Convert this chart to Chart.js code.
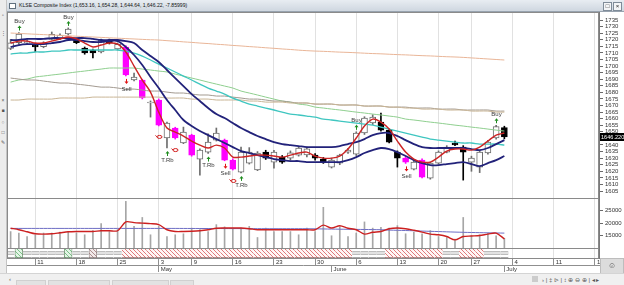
<!DOCTYPE html>
<html>
<head>
<meta charset="utf-8">
<title>KLSE Composite Index</title>
<script src="https://cdn.jsdelivr.net/npm/chart.js@4.4.1/dist/chart.umd.min.js"></script>
<style>
html, body { margin: 0; padding: 0; background: #fff; }
body { width: 624px; height: 285px; position: relative; overflow: hidden; font-family: "Liberation Sans", Arial, sans-serif; }
#chart { position: absolute; left: 0; top: 0; }
#toolbar { position: absolute; left: 0; top: 0; width: 6px; height: 273px; background: #ececec; border-right: 1px solid #c4c4c4; font-size: 5px; color: #555; }
#toolbar span { position: absolute; left: 0; width: 6px; text-align: center; line-height: 6px; }
#title { position: absolute; left: 7px; top: 0; width: 617px; height: 11px; background: linear-gradient(#e8edf2, #cfd7e0); border-bottom: 1px solid #98a3af; font-size: 5.1px; line-height: 11px; color: #111; white-space: nowrap; }
#title .ico { display: inline-block; width: 5px; height: 4px; margin: 0 3px 0 2px; border: 1px solid #60707f; background: #fff; vertical-align: middle; }
#winbtn { position: absolute; right: 2px; top: 1px; }
#winbtn span { display: inline-block; width: 7px; height: 7px; border: 1px solid #7f8c99; background: #f3f5f7; margin-left: 1px; font-size: 6px; line-height: 7px; text-align: center; color: #222; }
#smile { position: absolute; left: 600px; top: 258px; width: 22px; height: 14px; background: #dcdcdc; border: 1px solid #bdbdbd; font-size: 8px; text-align: center; line-height: 14px; color: #555; }
#bottom { position: absolute; left: 0; top: 273px; width: 624px; height: 12px; background: #f0f0f0; border-top: 1px solid #d4d4d4; font-size: 6px; color: #555; }
#bottom span { position: absolute; top: 2px; }
#bottom .tab { top: 6px; height: 6px; background: #e2e2e2; border: 1px solid #d0d0d0; border-bottom: 0; }
</style>
</head>
<body>
<canvas id="chart" width="624" height="285"></canvas>
<div id="toolbar">
  <span style="top:12px">▫</span>
  <span style="top:30px">⋮</span>
  <span style="top:97px">×</span>
  <span style="top:107px">■</span>
  <span style="top:119px">○</span>
  <span style="top:129px">□</span>
  <span style="top:139px">✎</span>
</div>
<div id="title"><span class="ico"></span><span id="titleText"></span><div id="winbtn"><span>□</span><span>×</span></div></div>
<div id="smile">☺</div>
<div id="bottom">
  <span style="left:9px">‹</span>
  <span class="tab" style="left:16px;width:28px"></span>
  <span class="tab" style="left:48px;width:60px"></span>
  <span class="tab" style="left:112px;width:55px"></span>
  <span class="tab" style="left:170px;width:22px"></span>
  <span style="left:532px;width:6px;height:6px;background:#ccc"></span>
  <span style="left:542px">›&nbsp;|&nbsp;‡&nbsp;⊳&nbsp;|&nbsp;↕&nbsp;⊕&nbsp;⊖&nbsp;⊕&nbsp;|&nbsp;◂&nbsp;▸</span>
</div>
<script>
// trading days, then the empty days to the right of the last bar
const dates = [
  '2016-04-06','2016-04-07','2016-04-08',
  '2016-04-11','2016-04-12','2016-04-13','2016-04-14','2016-04-15',
  '2016-04-18','2016-04-19','2016-04-20','2016-04-21','2016-04-22',
  '2016-04-25','2016-04-26','2016-04-27','2016-04-28','2016-04-29',
  '2016-05-03','2016-05-04','2016-05-05','2016-05-06',
  '2016-05-09','2016-05-10','2016-05-11','2016-05-12','2016-05-13',
  '2016-05-16','2016-05-17','2016-05-18','2016-05-19','2016-05-20',
  '2016-05-23','2016-05-24','2016-05-25','2016-05-26','2016-05-27',
  '2016-05-30','2016-05-31','2016-06-01','2016-06-02','2016-06-03',
  '2016-06-06','2016-06-07','2016-06-08','2016-06-09','2016-06-10',
  '2016-06-13','2016-06-14','2016-06-15','2016-06-16','2016-06-17',
  '2016-06-20','2016-06-21','2016-06-23','2016-06-24',
  '2016-06-27','2016-06-28','2016-06-29','2016-06-30','2016-07-01',
  '2016-07-04','2016-07-05','2016-07-06','2016-07-07','2016-07-08',
  '2016-07-11','2016-07-12','2016-07-13','2016-07-14','2016-07-15',
  '2016-07-18','2016-07-19'
];

const opens = [1713.5,1717.7,1717.8,1716.0,1714.7,1720.3,1721.0,1724.4,1719.8,1713.7,
  1712.2,1710.7,1719.8,1713.0,1714.5,1689.4,1689.4,1671.9,1674.2,1645.3,
  1652.9,1641.5,1647.5,1629.3,1634.6,1643.7,1643.7,1628.5,1619.4,1626.2,
  1621.0,1634.6,1627.0,1630.8,1630.0,1632.3,1632.5,1632.3,1629.3,1623.2,
  1626.2,1634.6,1633.1,1649.1,1656.7,1657.4,1651.3,1634.6,1630.0,1621.7,
  1628.5,1614.8,1626.2,1634.6,1641.5,1638.4,1627.0,1623.2,1633.9,1645.3,
  1653.16];
const highs = [1720.3,1725.5,1720.2,1717.0,1718.5,1725.9,1724.5,1729.0,1721.0,1714.5,
  1713.0,1720.5,1720.5,1717.5,1715.5,1694.7,1690.0,1673.5,1675.0,1657.5,
  1653.5,1653.6,1648.2,1637.0,1648.5,1652.9,1644.5,1629.5,1638.4,1638.0,
  1635.0,1636.0,1636.0,1632.0,1635.5,1638.5,1638.5,1633.5,1630.5,1630.0,
  1633.0,1637.5,1650.0,1661.5,1663.0,1664.3,1652.0,1635.5,1631.0,1628.0,
  1629.5,1627.0,1635.5,1639.5,1643.0,1639.5,1631.5,1636.0,1643.5,1655.0,
  1654.28];
const lows = [1712.5,1716.5,1716.4,1711.0,1713.9,1719.8,1720.0,1723.5,1717.0,1709.0,
  1706.1,1710.0,1716.8,1712.2,1692.5,1688.8,1675.0,1661.2,1654.5,1637.7,
  1644.5,1641.0,1631.5,1617.0,1633.5,1643.0,1628.0,1621.0,1618.8,1625.5,
  1620.5,1629.0,1622.4,1626.0,1628.5,1631.5,1631.0,1628.5,1626.0,1622.5,
  1625.0,1633.5,1632.0,1648.0,1655.5,1650.5,1641.5,1623.2,1626.0,1621.0,
  1615.0,1614.0,1625.5,1634.0,1639.5,1613.3,1620.0,1619.0,1633.0,1644.5,
  1644.64];
const closes = [1717.7,1724.4,1718.6,1714.6,1717.7,1724.1,1723.5,1728.2,1717.7,1709.9,
  1709.9,1719.8,1717.5,1716.5,1693.2,1691.7,1675.7,1672.6,1655.1,1656.7,
  1645.3,1649.8,1632.3,1636.1,1642.2,1649.1,1628.5,1621.7,1634.6,1634.6,
  1633.9,1630.0,1634.6,1627.0,1634.0,1637.7,1637.0,1630.0,1627.0,1628.5,
  1632.3,1636.1,1649.1,1660.5,1661.2,1651.3,1642.2,1630.0,1627.0,1627.0,
  1615.6,1626.2,1634.6,1638.4,1640.0,1634.6,1630.0,1634.6,1642.2,1654.08,
  1646.22];

// moving averages on the price pane
const maShort = [1717.5,1719.0,1719.0,1717.5,1717.5,1719.0,1720.6,1722.1,1720.6,1717.5,
  1714.5,1716.0,1717.5,1716.7,1710.7,1700.0,1689.4,1680.2,1665.0,1652.9,
  1649.8,1646.8,1643.0,1639.9,1637.7,1639.9,1637.7,1630.8,1630.8,1631.6,
  1632.3,1632.3,1631.6,1630.8,1632.3,1633.9,1634.6,1631.6,1630.0,1630.0,
  1631.6,1636.9,1645.3,1654.4,1659.7,1657.4,1652.1,1643.0,1634.6,1629.3,
  1627.0,1627.0,1630.8,1635.4,1636.9,1636.9,1636.1,1638.4,1643.0,1647.5,
  1649.1];
const maNavyA = [1714.5,1716.0,1716.7,1716.7,1716.7,1717.5,1718.3,1719.8,1719.8,1719.0,
  1718.3,1718.3,1719.0,1719.0,1714.5,1708.4,1700.8,1691.7,1683.3,1674.2,
  1666.6,1659.0,1654.4,1650.6,1647.5,1644.5,1641.5,1638.4,1635.4,1633.9,
  1632.3,1630.8,1629.3,1628.5,1627.8,1627.8,1627.0,1627.0,1627.0,1627.0,
  1627.0,1628.5,1630.8,1633.9,1636.1,1637.7,1636.9,1634.6,1631.6,1628.5,
  1626.2,1624.7,1624.7,1625.5,1626.2,1627.0,1625.5,1623.9,1626.2,1628.5,
  1631.6];
const maNavyB = [1719.8,1719.8,1720.6,1720.6,1720.6,1721.3,1721.3,1721.3,1721.3,1721.3,
  1720.6,1719.8,1719.8,1719.8,1719.0,1717.5,1712.2,1707.6,1703.1,1697.0,
  1690.9,1684.8,1678.7,1673.4,1668.1,1663.5,1660.5,1656.7,1652.9,1649.8,
  1646.8,1644.5,1642.2,1640.7,1639.9,1639.2,1638.4,1638.4,1638.4,1638.4,
  1639.2,1640.7,1642.2,1644.5,1647.5,1649.1,1649.1,1646.8,1643.7,1640.7,
  1638.4,1637.7,1637.7,1637.7,1637.7,1637.7,1636.9,1636.1,1637.7,1640.7,
  1643.7];
const maCyan = [1709.1,1709.9,1709.9,1710.7,1710.7,1711.4,1711.4,1712.2,1712.2,1712.2,
  1712.2,1712.2,1712.2,1712.2,1711.4,1709.9,1707.6,1704.6,1701.5,1698.5,
  1695.5,1692.4,1689.4,1686.3,1683.3,1681.0,1678.7,1675.7,1673.4,1671.1,
  1669.6,1668.1,1666.6,1665.0,1663.5,1662.8,1662.0,1661.2,1659.7,1659.0,
  1658.2,1657.4,1656.7,1655.9,1655.1,1653.6,1652.1,1650.6,1649.1,1647.5,
  1646.0,1644.5,1643.7,1643.0,1642.2,1641.5,1641.5,1640.7,1640.7,1640.7,
  1639.9];
const maGreen = [1687.8,1689.4,1690.1,1691.7,1692.4,1693.2,1693.9,1694.7,1695.5,1696.2,
  1697.0,1697.7,1698.5,1698.5,1698.5,1698.5,1697.7,1697.0,1696.2,1695.5,
  1693.9,1692.4,1690.9,1689.4,1687.8,1686.3,1684.8,1683.3,1681.0,1679.5,
  1678.0,1676.4,1674.9,1673.4,1672.6,1671.1,1670.4,1668.8,1668.1,1667.3,
  1666.6,1665.8,1665.0,1664.3,1663.5,1662.8,1662.0,1661.2,1659.7,1659.0,
  1658.2,1657.4,1656.7,1655.9,1655.1,1654.4,1653.6,1652.9,1652.1,1651.3,
  1650.6];
const maGray = [1690.9,1690.1,1689.4,1689.4,1688.6,1687.8,1687.1,1687.1,1686.3,1685.6,
  1684.8,1684.0,1684.0,1683.3,1682.5,1682.5,1681.8,1681.0,1681.0,1680.2,
  1679.5,1679.5,1678.7,1678.0,1678.0,1677.2,1677.2,1676.4,1675.7,1674.9,
  1674.9,1674.2,1673.4,1673.4,1672.6,1671.9,1671.9,1671.1,1671.1,1671.1,
  1670.4,1670.4,1670.4,1669.6,1669.6,1669.6,1668.8,1668.8,1668.8,1668.1,
  1668.1,1668.1,1667.3,1667.3,1667.3,1666.6,1666.6,1666.6,1666.6,1665.8,
  1665.8];
const maTan = [1674.2,1674.2,1674.9,1674.9,1674.9,1674.9,1675.7,1675.7,1675.7,1675.7,
  1676.4,1676.4,1676.4,1676.4,1676.4,1676.4,1676.4,1676.4,1676.4,1675.7,
  1675.7,1675.7,1674.9,1674.9,1674.9,1674.2,1674.2,1674.2,1674.2,1673.4,
  1673.4,1672.6,1672.6,1672.6,1671.9,1671.9,1671.9,1671.1,1671.1,1671.1,
  1670.4,1670.4,1670.4,1669.6,1669.6,1669.6,1668.8,1668.8,1668.1,1668.1,
  1667.3,1667.3,1667.3,1666.6,1666.6,1666.6,1665.8,1665.8,1665.8,1665.0,
  1665.0];
const maOrange = [1725.1,1724.8,1724.5,1724.2,1723.9,1723.6,1723.3,1723.0,1722.7,1722.4,
  1722.1,1721.8,1721.5,1721.2,1720.9,1720.6,1720.3,1720.0,1719.8,1719.3,
  1718.9,1718.4,1718.0,1717.5,1717.1,1716.6,1716.2,1715.7,1715.3,1714.8,
  1714.4,1713.9,1713.5,1713.0,1712.6,1712.1,1711.7,1711.4,1711.2,1710.9,
  1710.6,1710.4,1710.1,1709.8,1709.5,1709.3,1709.0,1708.7,1708.5,1708.2,
  1707.9,1707.7,1707.4,1707.1,1706.9,1706.6,1706.2,1705.8,1705.4,1705.0,
  1704.6];

const volume = [16600,16000,14600,15300,16000,16000,16400,16600,16000,15300,
  17000,19800,16600,17400,28800,18700,22300,15300,18700,14600,
  15300,15700,18000,17400,16600,19400,18500,18000,18000,18700,
  14200,18000,16600,16600,16600,15300,18000,16600,26400,14900,
  18500,14600,16000,20500,18000,18300,18000,19000,15700,16400,
  15700,17000,14600,14200,13600,22300,14900,15300,16000,14900,
  13900];
const volMaShort = [17950,17340,16520,15700,15570,15700,16110,16520,16640,16640,
  16640,16930,16930,16930,20490,20200,20000,19800,19390,17340,
  16640,16640,16720,16930,17340,17950,18030,18030,18030,17750,
  17340,17340,17340,17340,17340,17340,17340,17340,19210,18030,
  18970,17950,17340,15570,16310,16640,17750,18030,17750,17130,
  16390,15570,15290,14590,13240,14590,14800,15000,15570,15980,
  13650];
const volMaLong = [17870,17870,17870,17870,17870,17870,17870,17870,17870,17870,
  17870,17870,17870,17870,17870,17870,17870,17870,17870,17870,
  17870,17860,17850,17840,17830,17820,17810,17800,17790,17780,
  17770,17760,17750,17750,17750,17750,17750,17700,17650,17600,
  17560,17520,17480,17440,17390,17340,17200,17110,17020,16930,
  16800,16700,16600,16490,16390,16300,16230,16160,16090,16030,
  15980];

// axis labels on the two right-hand scales
const priceTicks = [1605,1610,1615,1620,1625,1630,1635,1640,1645,1650,1655,1660,1665,1670,
  1675,1680,1685,1690,1695,1700,1705,1710,1715,1720,1725,1730,1735];
const volTicks = [15000, 20000, 25000];

// signals and trend state per bar (n neutral, b buy, w weak, s sell)
const buyIdx = [1, 7, 42, 59];
const sellIdx = [14, 26, 48];
const reboundIdx = [19, 24, 28];
const bearIdx = [18, 20, 27];
const alertIdx = [14, 16, 18, 20, 22, 26, 27, 48, 50];
const trend = ['n','b','n','n','n','n','n','b','n','n',
  'w','n','n','n','s','s','s','s','s','s',
  's','s','s','s','s','s','s','s','s','s',
  's','s','s','s','s','s','s','s','s','s',
  's','s','n','n','n','n','s','s','s','s',
  's','s','s','n','n','s','s','s','n','n',
  'n'];

Chart.defaults.font.family = '"Liberation Sans", Arial, sans-serif';
Chart.defaults.font.size = 6;
Chart.defaults.color = '#333';

const n = closes.length;
const at = arr => arr.map((v, i) => ({x: i, y: v}));
const dayOf = s => new Date(s + 'T00:00:00Z');
const weekTicks = dates.map((d, i) => i).filter(i => i > 0 && dayOf(dates[i]).getUTCDay() < dayOf(dates[i - 1]).getUTCDay());
const monthTicks = dates.map((d, i) => i).filter(i => i > 0 && dates[i].slice(5, 7) !== dates[i - 1].slice(5, 7));

const kind = closes.map((c, i) => alertIdx.includes(i) ? 'alert' : (c < opens[i] ? 'down' : 'up'));
const bodyFill = {up: '#ffffff', down: '#000000', alert: '#ff00ff'};
const edge = {up: '#6e6e6e', down: '#000000', alert: '#ff00ff'};

// title text from the last bar
const fmt = v => v.toLocaleString('en-US', {minimumFractionDigits: 2, maximumFractionDigits: 2});
const change = Math.trunc((closes[n - 1] - closes[n - 2]) * 1e5) / 1e5;
document.getElementById('titleText').textContent =
  'KLSE Composite Index (' + [opens[n - 1], highs[n - 1], lows[n - 1], closes[n - 1]].map(fmt).join(', ') + ', ' + change + ')';

function hatch(line, bg) {
  const c = document.createElement('canvas');
  c.width = 4; c.height = 4;
  const g = c.getContext('2d');
  g.fillStyle = bg;
  g.fillRect(0, 0, 4, 4);
  g.strokeStyle = line;
  g.lineWidth = 1;
  g.beginPath();
  g.moveTo(0, 0); g.lineTo(4, 4);
  g.moveTo(3, -1); g.lineTo(5, 1);
  g.moveTo(-1, 3); g.lineTo(1, 5);
  g.stroke();
  return g.createPattern(c, 'repeat');
}

const stripBars = (state, y0, y1) => trend.map((t, i) => t === state ? {x: i, y: [y0, y1]} : null).filter(Boolean);
const stripEdge = {top: 1, bottom: 1, left: 0, right: 0};

function line(label, data, color, width, order) {
  return {type: 'line', label, data: at(data), yAxisID: 'y', borderColor: color, borderWidth: width,
    pointRadius: 0, tension: 0.3, order};
}

const overlay = {
  id: 'overlay',
  afterDatasetsDraw(chart) {
    const {ctx, chartArea: area} = chart;
    const {x, y, yv, yh} = chart.scales;
    ctx.save();
    ctx.strokeStyle = '#8a8a8a';
    ctx.lineWidth = 1;
    [y, yv, yh].forEach(s => {
      ctx.strokeRect(Math.round(area.left) + 0.5, Math.round(s.top) + 0.5,
        Math.round(area.right - area.left) - 1, Math.round(s.bottom - s.top));
    });

    ctx.font = '6px "Liberation Sans", Arial, sans-serif';
    ctx.textAlign = 'center';
    ctx.textBaseline = 'middle';
    const arrow = (px, from, tip, color) => {
      const dir = Math.sign(tip - from);
      ctx.strokeStyle = color;
      ctx.fillStyle = color;
      ctx.beginPath(); ctx.moveTo(px, from); ctx.lineTo(px, tip - dir * 2); ctx.stroke();
      ctx.beginPath(); ctx.moveTo(px, tip); ctx.lineTo(px - 2, tip - dir * 2.5); ctx.lineTo(px + 2, tip - dir * 2.5); ctx.closePath(); ctx.fill();
    };
    const text = (t, px, py) => { ctx.fillStyle = '#3a3a3a'; ctx.fillText(t, px, py); };
    const px = i => Math.round(x.getPixelForValue(i)) + 0.5;

    buyIdx.forEach(i => {
      const hy = y.getPixelForValue(highs[i]);
      arrow(px(i), hy - 2, hy - 7, '#1e8c1e');
      text('Buy', px(i), hy - 11);
    });
    reboundIdx.forEach(i => {
      const ly = y.getPixelForValue(lows[i]);
      arrow(px(i), ly + 8, ly + 3, '#1e8c1e');
      text('T.Rb', px(i), ly + 12);
    });
    sellIdx.forEach(i => {
      const ly = y.getPixelForValue(lows[i]);
      arrow(px(i), ly + 3, ly + 8, '#e01010');
      text('Sell', px(i), ly + 13);
    });
    bearIdx.forEach(i => {
      const ly = y.getPixelForValue(lows[i]) + 11;
      ctx.strokeStyle = '#d01818';
      ctx.beginPath();
      ctx.ellipse(px(i), ly, 2.5, 1.5, 0, 0, Math.PI * 2);
      ctx.moveTo(px(i) - 2.5, ly); ctx.lineTo(px(i) - 4, ly - 1.5);
      ctx.stroke();
    });

    // last price box on the axis
    const last = closes[n - 1];
    const ly = Math.round(y.getPixelForValue(last));
    ctx.fillStyle = '#000';
    ctx.fillRect(y.left + 1, ly - 4, y.right - y.left - 1, 8);
    ctx.fillStyle = '#fff';
    ctx.textAlign = 'left';
    ctx.font = '5.6px "Liberation Sans", Arial, sans-serif';
    ctx.fillText(last.toFixed(3), y.left + 2, ly + 0.5);
    ctx.restore();
  }
};

const fixWidth = s => { s.width = 25; s.paddingTop = 0; s.paddingBottom = 0; };
const fixHeight = s => { s.height = 7; s.paddingLeft = 0; s.paddingRight = 0; };
const plain = v => String(v);

new Chart(document.getElementById('chart'), {
  data: {
    datasets: [
      line('orange', maOrange, '#e9b597', 1, 3),
      line('tan', maTan, '#c9b595', 1, 3),
      line('gray', maGray, '#a39a90', 1, 3),
      line('green', maGreen, '#8fcf8f', 1, 3),
      line('cyan', maCyan, '#3fc6c0', 1.3, 2),
      line('navyB', maNavyB, '#22227a', 1.8, 1),
      line('navyA', maNavyA, '#22227a', 1.8, 1),
      line('short', maShort, '#cc2424', 1.4, 0),
      {type: 'bar', label: 'wick', data: closes.map((c, i) => ({x: i, y: [lows[i], highs[i]]})),
        yAxisID: 'y', barThickness: 1, grouped: false, backgroundColor: kind.map(k => edge[k]), order: 6},
      {type: 'bar', label: 'body', data: closes.map((c, i) => ({x: i, y: [Math.min(opens[i], c), Math.max(opens[i], c)]})),
        yAxisID: 'y', barThickness: 6, grouped: false, minBarLength: 1, borderSkipped: false, borderWidth: 1,
        backgroundColor: kind.map(k => bodyFill[k]), borderColor: kind.map(k => edge[k]), order: 5},

      {type: 'bar', label: 'volume', data: at(volume), yAxisID: 'yv', barThickness: 1, grouped: false,
        backgroundColor: '#a6a6a6', order: 6},
      {type: 'line', label: 'volLong', data: at(volMaLong), yAxisID: 'yv', borderColor: '#6d6dc4', borderWidth: 1,
        pointRadius: 0, tension: 0.3, order: 1},
      {type: 'line', label: 'volShort', data: at(volMaShort), yAxisID: 'yv', borderColor: '#cc2020', borderWidth: 1.4,
        pointRadius: 0, tension: 0.3, order: 0},

      {type: 'bar', label: 'neutral', data: stripBars('n', 0, 1), yAxisID: 'yh', grouped: false,
        barPercentage: 1, categoryPercentage: 1, backgroundColor: '#ffffff', borderColor: '#8a8a8a',
        borderWidth: stripEdge, borderSkipped: false, order: 2},
      {type: 'bar', label: 'neutralInner', data: stripBars('n', 0.36, 0.64), yAxisID: 'yh', grouped: false,
        barPercentage: 1, categoryPercentage: 1, backgroundColor: '#ffffff', borderColor: '#8a8a8a',
        borderWidth: stripEdge, borderSkipped: false, order: 1},
      {type: 'bar', label: 'bull', data: stripBars('b', 0, 1), yAxisID: 'yh', grouped: false,
        barPercentage: 1, categoryPercentage: 1, backgroundColor: hatch('#7cc48a', '#e4f4e6'), borderColor: '#6a8a6a',
        borderWidth: 1, borderSkipped: false, order: 2},
      {type: 'bar', label: 'weak', data: stripBars('w', 0, 1), yAxisID: 'yh', grouped: false,
        barPercentage: 1, categoryPercentage: 1, backgroundColor: hatch('#b09090', '#f2eaea'), borderColor: '#8a7a7a',
        borderWidth: 1, borderSkipped: false, order: 2},
      {type: 'bar', label: 'bear', data: stripBars('s', 0, 1), yAxisID: 'yh', grouped: false,
        barPercentage: 1, categoryPercentage: 1, backgroundColor: hatch('#e07a7a', '#fff6f6'), borderColor: '#9a6a6a',
        borderWidth: stripEdge, borderSkipped: false, order: 2}
    ]
  },
  options: {
    responsive: false,
    devicePixelRatio: 1,
    animation: false,
    events: [],
    layout: {padding: {top: 12, left: 7, right: 0, bottom: 13}, autoPadding: false},
    plugins: {legend: {display: false}, tooltip: {enabled: false}},
    scales: {
      x: {
        type: 'linear', position: 'bottom', min: -0.44, max: 71.5, offset: false,
        afterBuildTicks: s => { s.ticks = weekTicks.map(v => ({value: v})); },
        afterFit: fixHeight,
        ticks: {autoSkip: false, maxRotation: 0, align: 'start', labelOffset: 2, padding: -6, color: '#333',
          callback: v => dayOf(dates[v]).getUTCDate()},
        grid: {color: '#e1e1e1', tickColor: '#8f8f8f', tickLength: 7, offset: false},
        border: {color: '#8f8f8f'}
      },
      x2: {
        type: 'linear', position: 'bottom', min: -0.44, max: 71.5, offset: false,
        afterBuildTicks: s => { s.ticks = monthTicks.map(v => ({value: v})); },
        afterFit: fixHeight,
        ticks: {autoSkip: false, maxRotation: 0, align: 'start', labelOffset: 2, padding: -6, color: '#333',
          callback: v => dayOf(dates[v]).toLocaleString('en-US', {month: 'long', timeZone: 'UTC'})},
        grid: {drawOnChartArea: false, tickColor: '#8f8f8f', tickLength: 7},
        border: {color: '#8f8f8f'}
      },
      y: {
        type: 'linear', position: 'right', stack: 'panes', stackWeight: 186, min: 1599.7, max: 1741.1,
        afterBuildTicks: s => { s.ticks = priceTicks.map(v => ({value: v})); },
        afterFit: fixWidth,
        ticks: {padding: 2, color: '#333', autoSkip: false, callback: plain},
        grid: {drawOnChartArea: false, tickLength: 4, tickColor: '#6a6a6a'},
        border: {color: '#7a7a7a'}
      },
      yv: {
        type: 'linear', position: 'right', stack: 'panes', stackWeight: 50, min: 9960, max: 30160, beginAtZero: false,
        afterBuildTicks: s => { s.ticks = volTicks.map(v => ({value: v})); },
        afterFit: fixWidth,
        ticks: {padding: 2, color: '#333', autoSkip: false, callback: plain},
        grid: {drawOnChartArea: false, tickLength: 4, tickColor: '#6a6a6a'},
        border: {color: '#7a7a7a'}
      },
      yh: {
        type: 'linear', position: 'right', stack: 'panes', stackWeight: 10, min: 0, max: 1,
        afterFit: fixWidth,
        ticks: {display: false},
        grid: {display: false},
        border: {color: '#7a7a7a'}
      }
    }
  },
  plugins: [overlay]
});
</script>
</body>
</html>
